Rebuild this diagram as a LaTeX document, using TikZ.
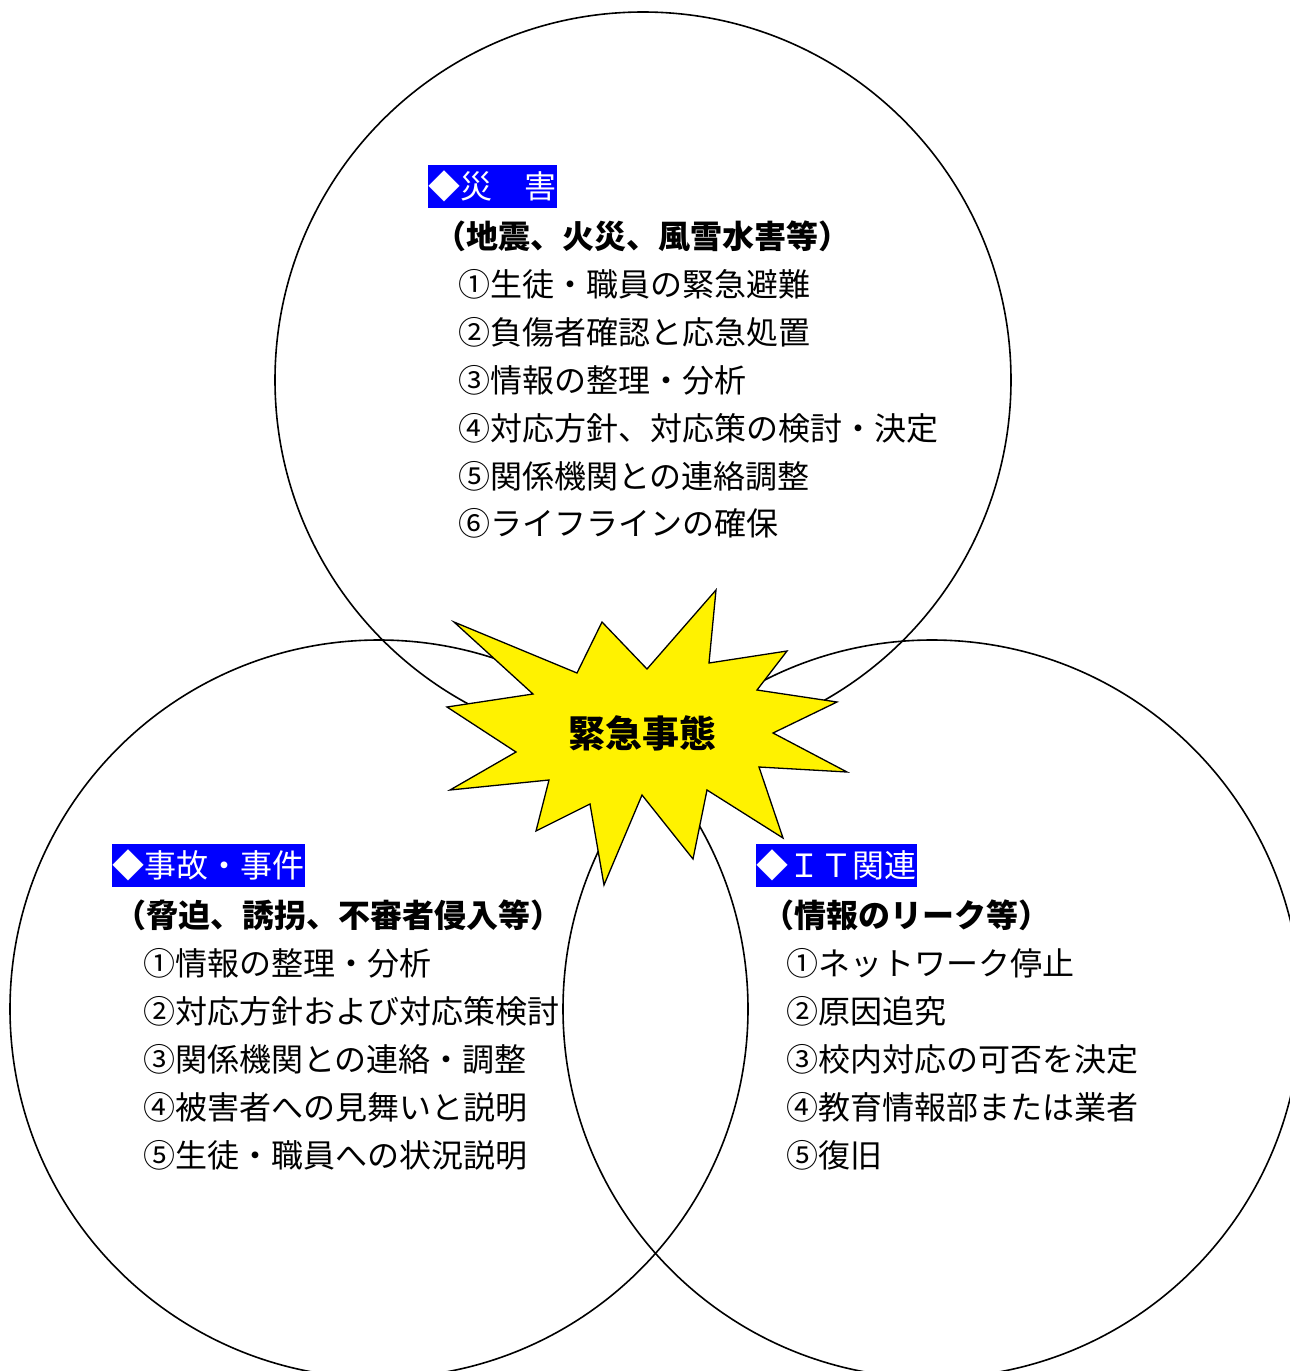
\documentclass[tikz,border=0pt]{standalone}
\usepackage{fontspec}
\newfontfamily\jp{Noto Sans CJK JP}
\begin{document}
\begin{tikzpicture}[x=1pt,y=-1pt,
  ring/.style={circle, draw=black, line width=1.6pt, inner sep=0pt},
  tag/.style={anchor=west, fill=blue, text=white, inner xsep=0.5pt, inner ysep=0pt, minimum height=43pt, font=\jp\fontsize{32pt}{32pt}\selectfont},
  head/.style={anchor=west, inner sep=0pt, font=\jp\bfseries\fontsize{32pt}{32pt}\selectfont},
  item/.style={anchor=west, inner sep=0pt, font=\jp\fontsize{32pt}{32pt}\selectfont}]
\useasboundingbox (0,0) rectangle (1290,1371);
\fill[white] (0,0) rectangle (1290,1371);
% circles
\node[ring, minimum size=736pt] (top) at (643,380) {};
\node[ring, minimum size=738pt] (left) at (379,1009) {};
\node[ring, minimum size=738pt] (right) at (932,1009) {};
% star
\draw[fill=yellow, line width=1.3pt, line join=miter]
  (716,590) -- (709,663) -- (787,651) -- (757,690) -- (837,702) -- (773,733)
  -- (847,772) -- (759,767) -- (783,838) -- (707,790) -- (693,859) -- (642,795)
  -- (604,885) -- (590,804) -- (536,831) -- (549,780) -- (450,790) -- (516,752)
  -- (447,707) -- (533,694) -- (454,622) -- (577,673) -- (602,622) -- (647,669) -- cycle;
\node[font=\jp\bfseries\fontsize{37pt}{37pt}\selectfont] (emergency) at (642,733) {緊急事態};
% top circle text
\node[tag] (t0) at (428,186) {◆災　害};
\node[head] (t1) at (434,236) {（地震、火災、風雪水害等）};
\node[item] (t2) at (458,284) {①生徒・職員の緊急避難};
\node[item] (t3) at (458,332) {②負傷者確認と応急処置};
\node[item] (t4) at (458,380) {③情報の整理・分析};
\node[item] (t5) at (458,428) {④対応方針、対応策の検討・決定};
\node[item] (t6) at (458,476) {⑤関係機関との連絡調整};
\node[item] (t7) at (458,523) {⑥ライフラインの確保};
% left circle text
\node[tag] (l0) at (112,865) {◆事故・事件};
\node[head] (l1) at (114,915) {（脅迫、誘拐、不審者侵入等）};
\node[item] (l2) at (143,963) {①情報の整理・分析};
\node[item] (l3) at (143,1011) {②対応方針および対応策検討};
\node[item] (l4) at (143,1059) {③関係機関との連絡・調整};
\node[item] (l5) at (143,1107) {④被害者への見舞いと説明};
\node[item] (l6) at (143,1155) {⑤生徒・職員への状況説明};
% right circle text
\node[tag] (r0) at (756,865) {◆ＩＴ関連};
\node[head] (r1) at (762,915) {（情報のリーク等）};
\node[item] (r2) at (786,963) {①ネットワーク停止};
\node[item] (r3) at (786,1011) {②原因追究};
\node[item] (r4) at (786,1059) {③校内対応の可否を決定};
\node[item] (r5) at (786,1107) {④教育情報部または業者};
\node[item] (r6) at (786,1155) {⑤復旧};
\end{tikzpicture}
\end{document}
